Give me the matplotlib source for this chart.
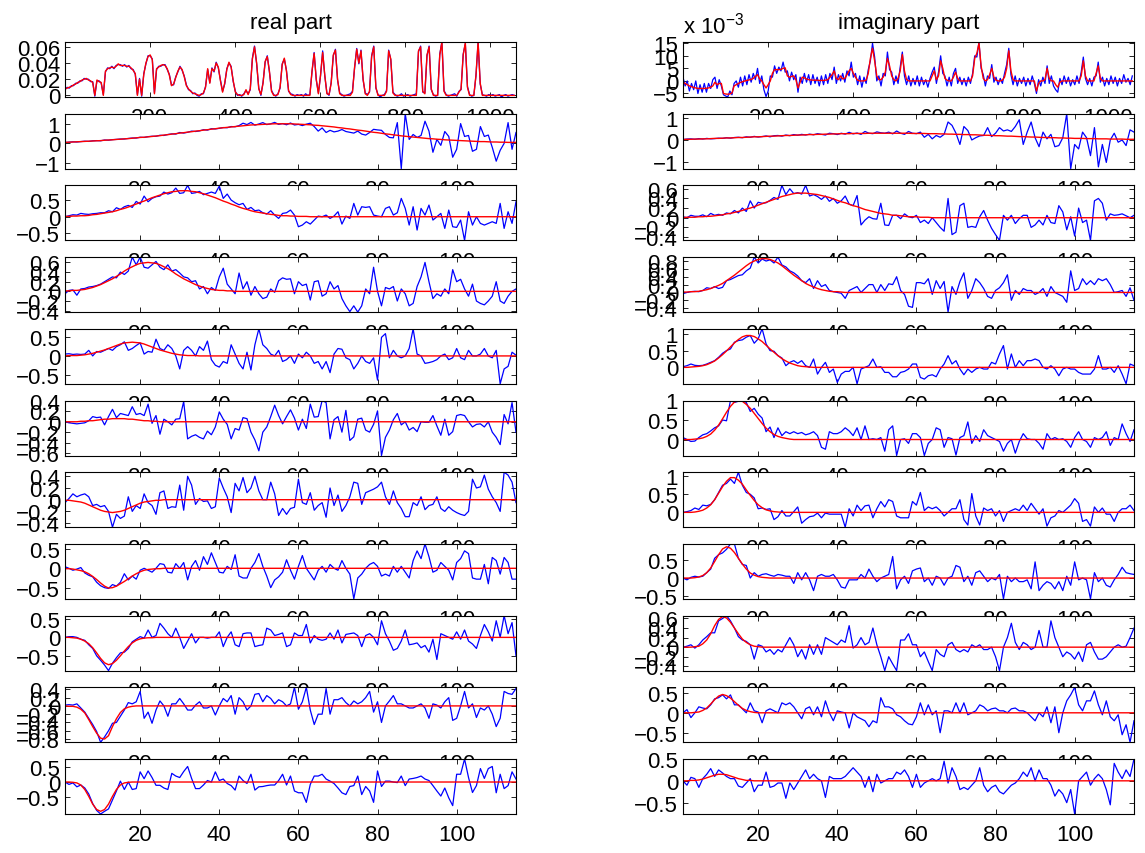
import numpy as np
import matplotlib.pyplot as plt

plt.rcParams['font.family'] = ['Liberation Sans', 'DejaVu Sans']
plt.rcParams['font.size'] = 16
plt.rcParams['mathtext.default'] = 'regular'

# ---------------------------------------------------------------------------
# whole spectrum, every 5th bin starting at bin 1 (values in units of 1e-3)
top_step = 5
real_top_data = [
    7, 10, 9, 12, 12, 15, 15, 18, 18, 21,
    20, 20, 17, 17, -1, 18, 18, 15, 1, 29,
    34, 33, 36, 33, 37, 38, 38, 36, 38, 35,
    37, 33, 32, 26, 1, 21, -1, 27, 39, 49,
    49, 45, 3, 32, 36, 36, 38, 38, 32, 26,
    13, 13, 23, 29, 36, 31, 24, 13, 7, 6,
    2, 3, 0, -1, 2, 2, 11, 32, 16, 34,
    29, 41, 34, 19, 5, 14, 33, 40, 36, 17,
    5, 0, 1, -1, 2, 6, 2, 7, 46, 61,
    39, 9, 0, 16, 41, 49, 29, 6, 1, -1,
    2, 9, 39, 45, 31, 5, 2, 1, -1, 1,
    0, 1, -1, 2, 0, 1, 29, 53, 19, 3,
    24, 55, 24, 3, 0, 16, 49, 57, 19, 3,
    1, -1, 0, 1, 2, 5, 34, 58, 39, 56,
    19, 3, 1, 4, 49, 61, 9, 1, -2, 0,
    1, 6, 56, 44, 4, 1, -1, 0, 2, -1,
    0, 1, -1, 0, 1, 2, 54, 61, 4, 3,
    49, 61, 7, 1, -1, 0, 51, 66, 6, 1,
    -1, 0, 1, 2, -1, 5, 7, 51, 64, 11,
    1, -1, 0, 24, 66, 14, 1, 0, -1, 1,
    0, 1, -1, 0, 1, -2, 0, 1, -1, 0, 1, 0]
real_top_fit = [
    8, 9, 10, 11, 13, 14, 16, 17, 19, 20,
    21, 19, 18, 16, 0, 19, 17, 16, 0, 30,
    33, 34, 35, 34, 36, 39, 37, 37, 37, 36,
    36, 34, 31, 27, 0, 20, 0, 26, 40, 48,
    50, 44, 2, 33, 35, 37, 38, 37, 33, 25,
    12, 14, 22, 30, 35, 32, 23, 12, 8, 5,
    3, 2, 1, 0, 1, 3, 10, 33, 15, 33,
    30, 40, 35, 18, 4, 15, 32, 41, 35, 18,
    4, 1, 0, 0, 1, 7, 1, 8, 45, 60,
    40, 8, 1, 15, 42, 48, 30, 5, 0, 0,
    1, 10, 38, 46, 30, 6, 1, 0, 0, 0,
    0, 0, 0, 0, 0, 0, 30, 52, 20, 2,
    25, 53, 25, 2, 1, 15, 50, 56, 20, 2,
    0, 0, 0, 0, 0, 4, 35, 57, 40, 55,
    20, 2, 0, 5, 48, 60, 10, 0, 0, 0,
    0, 5, 55, 45, 3, 0, 0, 0, 0, 0,
    0, 0, 0, 0, 0, 0, 55, 60, 5, 2,
    50, 60, 8, 0, 0, 0, 50, 66, 5, 0,
    0, 0, 0, 0, 0, 4, 8, 50, 65, 10,
    0, 0, 0, 25, 66, 15, 0, 0, 0, 0,
    0, 0, 0, 0, 0, 0, 0, 0, 0, 0, 0, 0]
imag_top_data = [
    1.5, -2, 0, -4, -1, -3.5, 0, -5, -1.5, -4.5,
    -1, -4.5, -1, -3, 0.5, 1.5, -3, 0.5, -2, -5.5,
    -6, -6.4, -4, -5.5, -1, 0, -2.5, 1.5, -2, 2,
    -1.5, 2.5, -0.5, 3, 0.5, 5, -1, 2, -3.5, -6.2,
    -4, 2, 1.5, 6, 3, 5.5, 4, 7.5, 3.5, 4,
    0, 3.5, 0.5, 2.5, -4.5, 1.5, -1, 3, -0.5, 2.5,
    -1.5, 2.5, -1, 1.5, -2, 2, -1.5, 2.5, -1, 3,
    0.5, 5.5, -1, 2.5, 0, 3, -0.5, 4, 2, 7.5,
    1.5, 3, -1.5, 2, -2.5, 1.5, -1, 4.5, 8, 15,
    9.5, 0, 2, -2, 3, 2, 11.5, 4.5, 3.5, -1.5,
    2, -1, 5.5, 11.5, 2, -1.5, 2, -2, 1, -1.5,
    2, -2, 1.5, -1.5, 0.5, -2.5, 1, 3.5, 5.5, -1,
    3.5, 10, 3, 2, -2, 1.5, -2, 3, 5, -1,
    1.5, -1.5, 1, -2, 1.5, -1, 3, 10, 9.5, 15.5,
    5, 2.5, -2, 2, 1, 6.5, -0.5, 1.5, -1.5, 1,
    -1, 3, 6.5, 13, 2.5, -1.5, 2, -2, 1, -1,
    1.5, -2, 1, -1.5, 2, -1, -5, 0.5, -2, 1.5,
    -1, 6, -1, 2, -2, -3.5, -4.5, 1, -1.5, 2,
    -1, 1.5, -2, 0.5, -1.5, 2, -1, 3.5, 9.5, 1,
    -1.5, 1, -2, 1.5, 2, 7.5, -0.5, 1.5, -2, 1,
    -1.5, 2, -1, 1.5, -2, 1, -1, 2.5, -0.5, 1, -1.5, 2]
imag_top_fit = [
    -0.5, -1, -1.5, -2, -2.3, -2.6, -2.8, -3, -3, -3,
    -3, -2.9, -2.8, -2.5, -2, -0.5, -1.5, -1, -1, -5,
    -5.2, -5.3, -5.2, -4.8, -2, -1.5, -1, -0.6, -0.3, 0,
    0.2, 0.4, 0.6, 1, 1.8, 2.5, 0.8, 0, -1.5, -2.8,
    -1.5, 0, 3, 4.5, 4.5, 4.5, 4.6, 5, 5.2, 2,
    1.5, 1.8, 2, 0.5, -2.8, -0.5, 1.5, 1.2, 0.8, 0.5,
    0.4, 0.3, 0.3, 0.3, 0.2, 0.2, 0.2, 0.3, 0.5, 1.5,
    2.5, 4, 1, 0.5, 2, 0.8, 1, 2.5, 4, 5,
    3, 1.5, 0.3, 0, 0, 0, 0.3, 3, 9, 13,
    8, 2, 0.5, 0.5, 1.5, 3.5, 9, 6, 2, 0.5,
    0, 1, 4, 10.5, 4, 0.5, 0, 0, 0, 0,
    0, 0, 0, 0, 0, 0, 0, 2, 4, 0.5,
    2, 8, 5, 1, 0.3, 0, 0, 1.5, 3.5, 1,
    0, 0, 0, 0, 0, 0, 2, 9, 11, 15,
    6, 1, 0, 0.5, 2.5, 5, 1.5, 0.3, 0, 0,
    0.3, 1.5, 5, 12, 4, 0.5, 0, 0, 0, 0,
    0, 0, 0, 0, 0, 0, -4, -1, 0, 0,
    0.5, 5, 1, 0, 0, -1.5, -2.5, -0.5, 0, 0,
    0, 0, 0, 0, 0, 0, 0, 2, 8, 2,
    0, 0, 0, 0, 3, 6, 1, 0, 0, 0,
    0, 0, 0, 0, 0, 0, 0, 0, 0, 0, 0, 0]

# ---------------------------------------------------------------------------
# expansion coefficients 1..10, real part (data and fitted curve)
real_c1_data = [
    0.04, 0.06, 0.08, 0.07, 0.09, 0.11, 0.1, 0.13, 0.14, 0.13,
    0.17, 0.16, 0.19, 0.2, 0.22, 0.22, 0.25, 0.27, 0.27, 0.31,
    0.3, 0.34, 0.36, 0.36, 0.41, 0.4, 0.45, 0.48, 0.47, 0.55,
    0.52, 0.56, 0.62, 0.6, 0.63, 0.69, 0.67, 0.74, 0.73, 0.76,
    0.8, 0.79, 0.85, 0.84, 0.9, 1.02, 0.95, 1.06, 0.92, 0.98,
    1.05, 0.95, 0.99, 1.06, 0.96, 1.0, 0.94, 1.03, 0.93, 0.96,
    0.9, 0.97, 1.02, 0.85, 0.62, 0.78, 0.55, 0.66, 0.58, 0.62,
    0.7, 0.6, 0.56, 0.52, 0.62, 0.47, 0.42, 0.55, 0.71, 0.68,
    0.66, 0.45, 0.3, 0.28, 1.05, -1.28, 1.5, 0.2, 0.45, 0.3,
    0.4, 1.12, 0.62, -0.45, 0.2, -0.1, 0.6, 0.35, -0.7, -0.3,
    1.0, 0.35, 0.4, -0.4, -0.3, 0.85, 0.35, 0.42, -0.2, -0.9,
    -0.35, 0.0, 1.05, -0.3, 0.55]
real_c1_fit = [
    0.05, 0.06, 0.07, 0.08, 0.09, 0.1, 0.11, 0.12, 0.13, 0.14,
    0.16, 0.17, 0.18, 0.2, 0.21, 0.23, 0.24, 0.26, 0.28, 0.3,
    0.31, 0.33, 0.35, 0.37, 0.39, 0.42, 0.44, 0.47, 0.49, 0.52,
    0.54, 0.57, 0.59, 0.62, 0.64, 0.67, 0.69, 0.72, 0.74, 0.77,
    0.79, 0.81, 0.83, 0.85, 0.87, 0.89, 0.91, 0.93, 0.94, 0.95,
    0.96, 0.97, 0.98, 0.99, 0.99, 0.99, 0.99, 0.99, 0.98, 0.97,
    0.96, 0.95, 0.94, 0.92, 0.91, 0.89, 0.87, 0.85, 0.83, 0.8,
    0.78, 0.75, 0.73, 0.7, 0.67, 0.65, 0.62, 0.59, 0.56, 0.54,
    0.51, 0.48, 0.46, 0.43, 0.41, 0.38, 0.36, 0.34, 0.32, 0.3,
    0.28, 0.26, 0.24, 0.23, 0.21, 0.2, 0.18, 0.17, 0.16, 0.15,
    0.14, 0.13, 0.12, 0.11, 0.1, 0.09, 0.09, 0.08, 0.07, 0.07,
    0.06, 0.06, 0.05, 0.05, 0.05]

real_c2_data = [
    0.0, 0.03, 0.06, 0.05, 0.1, 0.08, 0.07, 0.09, 0.1, 0.12,
    0.12, 0.18, 0.15, 0.27, 0.22, 0.3, 0.34, 0.28, 0.46, 0.38,
    0.62, 0.45, 0.55, 0.6, 0.62, 0.74, 0.68, 0.72, 0.86, 0.7,
    0.72, 0.94, 0.7, 0.72, 0.76, 0.66, 0.7, 0.74, 0.7, 0.92,
    0.55, 0.68, 0.5, 0.42, 0.36, 0.4, 0.22, 0.28, 0.18, 0.2,
    0.12, 0.08, 0.18, 0.05, -0.05, 0.1, 0.12, 0.2, 0.05, -0.3,
    -0.25, -0.15, -0.22, -0.1, 0.02, 0.0, 0.05, -0.05, 0.02, 0.15,
    -0.22, 0.02, -0.05, 0.4, 0.05, 0.3, 0.28, 0.3, 0.05, 0.02,
    0.0, 0.25, 0.3, 0.05, 0.12, 0.55, 0.25, -0.25, 0.3, -0.4,
    0.25, 0.05, 0.35, -0.1, 0.0, 0.1, -0.35, 0.2, -0.3, -0.32,
    -0.1, -0.71, 0.15, -0.25, 0.0, -0.2, -0.25, -0.2, -0.15, -0.2,
    0.4, -0.35, 0.15, -0.2, 0.45]
real_c2_fit = [
    0.01, 0.01, 0.02, 0.02, 0.03, 0.03, 0.04, 0.06, 0.07, 0.09,
    0.11, 0.13, 0.15, 0.18, 0.22, 0.25, 0.29, 0.34, 0.38, 0.43,
    0.47, 0.52, 0.57, 0.61, 0.65, 0.69, 0.72, 0.75, 0.76, 0.78,
    0.78, 0.78, 0.76, 0.75, 0.72, 0.69, 0.65, 0.61, 0.57, 0.52,
    0.47, 0.43, 0.38, 0.34, 0.29, 0.25, 0.22, 0.18, 0.15, 0.13,
    0.11, 0.09, 0.07, 0.06, 0.04, 0.03, 0.03, 0.02, 0.02, 0.01,
    0.01, 0.01, 0, 0, 0, 0, 0, 0, 0, 0,
    0, 0, 0, 0, 0, 0, 0, 0, 0, 0,
    0, 0, 0, 0, 0, 0, 0, 0, 0, 0,
    0, 0, 0, 0, 0, 0, 0, 0, 0, 0,
    0, 0, 0, 0, 0, 0, 0, 0, 0, 0,
    0, 0, 0, 0, 0]

real_c3_data = [
    -0.05, 0.02, 0.03, -0.08, 0.05, 0.06, 0.09, 0.1, 0.12, 0.15,
    0.2, 0.25, 0.3, 0.28, 0.4, 0.35, 0.42, 0.71, 0.55, 0.71,
    0.5, 0.48, 0.55, 0.62, 0.5, 0.45, 0.55, 0.42, 0.45, 0.38,
    0.3, 0.28, 0.2, 0.22, 0.05, 0.1, -0.05, 0.08, 0.02, 0.3,
    0.48, 0.15, 0.05, -0.05, 0.38, 0.05, 0.2, -0.08, 0.1, -0.05,
    -0.15, -0.12, 0.05, -0.02, 0.22, 0.28, 0.25, 0.26, -0.05, 0.2,
    0.12, 0.15, -0.18, 0.2, 0.22, -0.1, -0.05, 0.2, 0.05, 0.12,
    -0.15, -0.3, -0.42, -0.3, -0.43, -0.3, 0.05, -0.05, 0.5, 0.0,
    -0.3, 0.08, 0.05, 0.1, -0.2, 0.05, -0.05, -0.3, -0.25, 0.1,
    0.3, 0.6, 0.2, -0.15, -0.05, -0.1, 0.05, -0.05, 0.45, 0.2,
    0.25, 0.05, -0.1, 0.15, -0.2, -0.25, -0.28, -0.2, -0.1, 0.2,
    -0.2, -0.25, -0.1, 0.0, 0.05]
real_c3_fit = [
    0.01, 0.01, 0.02, 0.02, 0.03, 0.04, 0.06, 0.08, 0.11, 0.14,
    0.18, 0.22, 0.26, 0.31, 0.36, 0.42, 0.47, 0.51, 0.55, 0.58,
    0.59, 0.6, 0.59, 0.58, 0.55, 0.51, 0.47, 0.42, 0.36, 0.31,
    0.26, 0.22, 0.18, 0.14, 0.11, 0.08, 0.06, 0.04, 0.03, 0.02,
    0.02, 0.01, 0.01, 0, 0, 0, 0, 0, 0, 0,
    0, 0, 0, 0, 0, 0, 0, 0, 0, 0,
    0, 0, 0, 0, 0, 0, 0, 0, 0, 0,
    0, 0, 0, 0, 0, 0, 0, 0, 0, 0,
    0, 0, 0, 0, 0, 0, 0, 0, 0, 0,
    0, 0, 0, 0, 0, 0, 0, 0, 0, 0,
    0, 0, 0, 0, 0, 0, 0, 0, 0, 0,
    0, 0, 0, 0, 0]

real_c4_data = [
    0.05, 0.06, 0.04, 0.05, 0.04, 0.05, 0.15, 0.0, 0.12, 0.1,
    0.15, 0.2, 0.15, 0.25, 0.3, 0.38, 0.15, 0.2, 0.28, 0.35,
    0.05, 0.12, 0.1, 0.45, 0.2, 0.15, 0.3, 0.2, 0.0, -0.35,
    0.15, 0.25, 0.15, 0.0, 0.25, 0.15, 0.4, -0.1, -0.25, -0.3,
    -0.15, -0.2, 0.3, 0.05, -0.2, -0.35, 0.1, -0.38, 0.3, 0.73,
    0.3, 0.2, 0.05, 0.0, 0.15, -0.15, -0.1, 0.0, -0.2, 0.05,
    -0.05, 0.1, 0.0, -0.2, -0.15, -0.35, -0.15, -0.45, 0.05, 0.2,
    0.18, -0.05, -0.1, -0.35, -0.2, 0.0, -0.15, -0.2, -0.05, -0.65,
    0.5, 0.6, -0.05, 0.15, 0.0, -0.05, 0.0, 0.2, 0.73, 0.05,
    0.0, -0.2, -0.18, -0.15, -0.1, 0.0, 0.05, -0.1, -0.05, 0.2,
    -0.05, -0.1, 0.15, 0.0, 0.0, 0.05, 0.2, 0.0, -0.05, 0.15,
    -0.75, -0.35, -0.28, 0.1, 0.02]
real_c4_fit = [
    0, 0.01, 0.01, 0.01, 0.02, 0.03, 0.05, 0.07, 0.1, 0.13,
    0.16, 0.2, 0.24, 0.28, 0.32, 0.35, 0.36, 0.37, 0.36, 0.35,
    0.32, 0.28, 0.24, 0.2, 0.16, 0.13, 0.1, 0.07, 0.05, 0.03,
    0.02, 0.01, 0.01, 0.01, 0, 0, 0, 0, 0, 0,
    0, 0, 0, 0, 0, 0, 0, 0, 0, 0,
    0, 0, 0, 0, 0, 0, 0, 0, 0, 0,
    0, 0, 0, 0, 0, 0, 0, 0, 0, 0,
    0, 0, 0, 0, 0, 0, 0, 0, 0, 0,
    0, 0, 0, 0, 0, 0, 0, 0, 0, 0,
    0, 0, 0, 0, 0, 0, 0, 0, 0, 0,
    0, 0, 0, 0, 0, 0, 0, 0, 0, 0,
    0, 0, 0, 0, 0]

real_c5_data = [
    0.0, -0.02, -0.03, -0.04, -0.03, -0.02, 0.02, 0.1, 0.08, 0.09,
    -0.06, 0.1, 0.24, 0.08, 0.16, 0.14, 0.12, 0.29, 0.14, 0.16,
    0.12, 0.34, -0.03, 0.12, -0.24, 0.05, 0.0, -0.06, 0.05, 0.06,
    0.39, -0.33, -0.28, -0.25, -0.3, -0.33, -0.18, -0.25, -0.1, 0.19,
    0.05, -0.05, -0.33, -0.13, -0.16, 0.08, 0.06, -0.2, -0.35, -0.56,
    -0.2, -0.1, 0.1, 0.32, 0.12, -0.04, 0.1, 0.23, 0.07, -0.16,
    0.05, -0.13, 0.34, 0.09, 0.1, 0.41, 0.37, -0.33, 0.04, 0.1,
    -0.2, 0.22, -0.36, -0.29, 0.05, 0.07, -0.16, -0.2, -0.05, 0.21,
    -0.65, -0.3, -0.16, 0.04, 0.16, -0.06, 0.0, -0.16, -0.11, -0.19,
    0.0, -0.01, -0.01, 0.12, -0.08, -0.26, 0.05, -0.26, -0.19, 0.12,
    0.14, 0.12, 0.0, -0.1, -0.05, -0.04, -0.1, 0.0, -0.2, -0.3,
    -0.44, 0.14, -0.04, 0.37, -0.2]
real_c5_fit = [
    0, 0, 0, 0, 0.01, 0.01, 0.02, 0.02, 0.03, 0.04,
    0.05, 0.05, 0.06, 0.06, 0.06, 0.06, 0.05, 0.05, 0.04, 0.03,
    0.02, 0.02, 0.01, 0.01, 0, 0, 0, 0, 0, 0,
    0, 0, 0, 0, 0, 0, 0, 0, 0, 0,
    0, 0, 0, 0, 0, 0, 0, 0, 0, 0,
    0, 0, 0, 0, 0, 0, 0, 0, 0, 0,
    0, 0, 0, 0, 0, 0, 0, 0, 0, 0,
    0, 0, 0, 0, 0, 0, 0, 0, 0, 0,
    0, 0, 0, 0, 0, 0, 0, 0, 0, 0,
    0, 0, 0, 0, 0, 0, 0, 0, 0, 0,
    0, 0, 0, 0, 0, 0, 0, 0, 0, 0,
    0, 0, 0, 0, 0]

real_c6_data = [
    -0.05, 0.02, 0.1, 0.05, 0.08, 0.1, 0.05, -0.1, -0.08, -0.12,
    -0.1, -0.2, -0.47, -0.25, -0.32, -0.28, 0.05, -0.2, -0.1, -0.15,
    0.1, -0.05, -0.1, -0.25, 0.12, 0.15, -0.15, -0.12, -0.13, 0.25,
    -0.18, 0.4, 0.25, -0.08, 0.02, -0.03, -0.02, -0.15, -0.12, 0.37,
    0.2, 0.05, -0.22, 0.28, 0.15, 0.38, 0.12, 0.2, 0.4, 0.15,
    0.0, 0.0, 0.3, 0.1, -0.27, -0.15, -0.25, -0.15, -0.13, 0.35,
    -0.05, -0.08, 0.12, -0.18, -0.1, -0.05, -0.3, 0.2, -0.1, 0.08,
    -0.2, -0.1, 0.05, 0.3, 0.28, -0.08, 0.12, 0.15, 0.18, 0.22,
    0.3, 0.05, -0.08, 0.15, -0.05, -0.15, -0.29, -0.29, -0.05, -0.1,
    0.05, -0.17, -0.1, -0.08, 0.05, -0.15, -0.2, -0.12, -0.18, -0.22,
    -0.25, -0.27, -0.2, 0.35, 0.2, 0.22, 0.42, 0.18, 0.05, -0.05,
    -0.2, 0.47, 0.42, 0.3, -0.05]
real_c6_fit = [
    -0.01, -0.01, -0.02, -0.03, -0.04, -0.06, -0.09, -0.12, -0.15, -0.18,
    -0.2, -0.21, -0.22, -0.21, -0.2, -0.18, -0.15, -0.12, -0.09, -0.06,
    -0.04, -0.03, -0.02, -0.01, -0.01, 0, 0, 0, 0, 0,
    0, 0, 0, 0, 0, 0, 0, 0, 0, 0,
    0, 0, 0, 0, 0, 0, 0, 0, 0, 0,
    0, 0, 0, 0, 0, 0, 0, 0, 0, 0,
    0, 0, 0, 0, 0, 0, 0, 0, 0, 0,
    0, 0, 0, 0, 0, 0, 0, 0, 0, 0,
    0, 0, 0, 0, 0, 0, 0, 0, 0, 0,
    0, 0, 0, 0, 0, 0, 0, 0, 0, 0,
    0, 0, 0, 0, 0, 0, 0, 0, 0, 0,
    0, 0, 0, 0, 0]

real_c7_data = [
    0.04, 0.0, -0.05, -0.02, 0.02, -0.12, -0.18, -0.22, -0.36, -0.45,
    -0.5, -0.52, -0.42, -0.46, -0.36, -0.14, -0.3, -0.2, -0.28, -0.05,
    0.0, -0.05, -0.1, 0.0, 0.12, 0.1, -0.1, -0.12, 0.12, 0.0,
    0.15, -0.3, 0.05, 0.2, -0.05, 0.3, 0.1, 0.4, 0.15, -0.1,
    -0.12, 0.05, -0.03, 0.35, -0.2, -0.25, -0.25, 0.0, 0.15, 0.38,
    0.05, -0.2, -0.5, -0.3, -0.22, -0.1, 0.22, -0.05, -0.28, 0.05,
    0.33, 0.0, -0.15, -0.3, -0.05, 0.05, -0.1, 0.1, 0.0, -0.05,
    0.2, 0.0, -0.15, -0.79, -0.25, -0.15, 0.0, 0.1, 0.15, 0.05,
    -0.2, -0.15, -0.2, 0.05, -0.1, 0.05, -0.1, -0.25, 0.2, 0.45,
    0.25, 0.63, 0.3, -0.1, -0.05, 0.15, 0.05, -0.05, -0.3, 0.15,
    0.25, 0.45, 0.38, -0.25, -0.28, -0.28, 0.1, -0.4, 0.28, 0.2,
    -0.15, 0.28, 0.15, -0.28, -0.28]
real_c7_fit = [
    -0.01, -0.01, -0.02, -0.04, -0.06, -0.09, -0.14, -0.21, -0.29, -0.38,
    -0.46, -0.51, -0.5, -0.46, -0.4, -0.34, -0.27, -0.2, -0.14, -0.09,
    -0.05, -0.03, -0.02, -0.01, -0.01, 0, 0, 0, 0, 0,
    0, 0, 0, 0, 0, 0, 0, 0, 0, 0,
    0, 0, 0, 0, 0, 0, 0, 0, 0, 0,
    0, 0, 0, 0, 0, 0, 0, 0, 0, 0,
    0, 0, 0, 0, 0, 0, 0, 0, 0, 0,
    0, 0, 0, 0, 0, 0, 0, 0, 0, 0,
    0, 0, 0, 0, 0, 0, 0, 0, 0, 0,
    0, 0, 0, 0, 0, 0, 0, 0, 0, 0,
    0, 0, 0, 0, 0, 0, 0, 0, 0, 0,
    0, 0, 0, 0, 0]

real_c8_data = [
    0.0, 0.02, 0.02, 0.0, -0.05, -0.08, -0.2, -0.3, -0.5, -0.62,
    -0.75, -0.9, -0.7, -0.55, -0.42, -0.4, -0.3, -0.12, -0.05, 0.02,
    -0.02, 0.2, 0.0, 0.05, 0.38, 0.25, 0.1, 0.0, 0.25, 0.0,
    -0.3, -0.1, 0.1, -0.15, 0.0, 0.0, -0.02, 0.0, 0.0, 0.15,
    -0.25, 0.0, 0.15, -0.2, -0.25, 0.1, 0.12, 0.12, -0.25, -0.22,
    -0.2, 0.25, 0.2, 0.05, 0.08, 0.12, -0.25, -0.2, 0.12, 0.05,
    0.05, 0.35, -0.15, 0.05, -0.05, -0.08, -0.05, 0.12, -0.05, 0.2,
    -0.15, 0.08, 0.1, 0.12, 0.05, -0.25, 0.05, 0.1, 0.0, -0.2,
    0.45, 0.1, -0.1, -0.35, -0.3, -0.1, 0.2, -0.2, -0.18, -0.15,
    -0.28, -0.22, -0.4, -0.05, -0.6, 0.1, 0.05, 0.0, -0.05, 0.15,
    -0.05, 0.2, -0.1, -0.18, -0.3, 0.05, 0.35, 0.15, -0.1, 0.45,
    0.0, 0.59, 0.1, 0.4, -0.5]
real_c8_fit = [
    0, 0, -0.01, -0.02, -0.05, -0.1, -0.17, -0.28, -0.42, -0.57,
    -0.69, -0.74, -0.71, -0.62, -0.5, -0.37, -0.25, -0.15, -0.08, -0.04,
    -0.02, -0.01, -0.01, 0, 0, 0, 0, 0, 0, 0,
    0, 0, 0, 0, 0, 0, 0, 0, 0, 0,
    0, 0, 0, 0, 0, 0, 0, 0, 0, 0,
    0, 0, 0, 0, 0, 0, 0, 0, 0, 0,
    0, 0, 0, 0, 0, 0, 0, 0, 0, 0,
    0, 0, 0, 0, 0, 0, 0, 0, 0, 0,
    0, 0, 0, 0, 0, 0, 0, 0, 0, 0,
    0, 0, 0, 0, 0, 0, 0, 0, 0, 0,
    0, 0, 0, 0, 0, 0, 0, 0, 0, 0,
    0, 0, 0, 0, 0]

real_c9_data = [
    0.02, 0.03, 0.02, 0.05, -0.05, -0.15, -0.3, -0.45, -0.62, -0.88,
    -0.75, -0.6, -0.42, -0.4, -0.25, -0.1, 0.08, 0.05, 0.1, 0.35,
    -0.3, -0.15, -0.42, -0.1, 0.12, 0.0, -0.25, 0.05, 0.05, 0.18,
    0.05, -0.1, -0.1, 0.02, 0.1, -0.05, -0.05, 0.0, -0.22, 0.0,
    0.18, 0.1, 0.25, -0.2, 0.2, 0.1, -0.1, 0.0, 0.28, 0.3,
    0.1, 0.25, 0.18, 0.05, 0.15, 0.1, 0.0, 0.05, 0.45, -0.08,
    0.1, 0.45, -0.1, -0.45, -0.2, -0.2, 0.42, -0.2, 0.15, 0.15,
    0.2, 0.08, 0.0, 0.12, 0.05, 0.1, 0.2, 0.35, -0.15, 0.1,
    -0.4, 0.0, 0.12, 0.25, 0.05, 0.05, 0.0, -0.05, -0.05, 0.0,
    0.05, -0.05, -0.3, 0.05, 0.02, -0.05, 0.1, 0.2, -0.35, -0.3,
    0.0, 0.35, -0.05, 0.05, -0.28, -0.05, -0.1, 0.0, -0.2, -0.5,
    -0.3, 0.35, 0.3, 0.28, 0.42]
real_c9_fit = [
    0, -0.01, -0.01, -0.03, -0.08, -0.17, -0.33, -0.5, -0.66, -0.78,
    -0.8, -0.72, -0.5, -0.31, -0.16, -0.07, -0.03, -0.01, 0, 0,
    0, 0, 0, 0, 0, 0, 0, 0, 0, 0,
    0, 0, 0, 0, 0, 0, 0, 0, 0, 0,
    0, 0, 0, 0, 0, 0, 0, 0, 0, 0,
    0, 0, 0, 0, 0, 0, 0, 0, 0, 0,
    0, 0, 0, 0, 0, 0, 0, 0, 0, 0,
    0, 0, 0, 0, 0, 0, 0, 0, 0, 0,
    0, 0, 0, 0, 0, 0, 0, 0, 0, 0,
    0, 0, 0, 0, 0, 0, 0, 0, 0, 0,
    0, 0, 0, 0, 0, 0, 0, 0, 0, 0,
    0, 0, 0, 0, 0]

real_c10_data = [
    0.0, -0.08, -0.03, -0.16, -0.1, -0.2, -0.4, -0.72, -0.95, -1.07,
    -0.98, -0.9, -0.6, -0.3, 0.03, -0.25, 0.0, -0.25, -0.22, 0.34,
    0.11, 0.37, 0.15, -0.11, -0.11, -0.2, -0.25, 0.29, 0.2, 0.15,
    0.35, 0.52, 0.12, -0.22, -0.22, -0.1, 0.05, 0.0, 0.34, 0.05,
    0.1, -0.05, -0.12, -0.27, 0.2, 0.05, -0.05, 0.26, -0.27, -0.16,
    -0.15, -0.12, -0.1, -0.1, 0.05, 0.26, -0.1, 0.2, -0.3, -0.36,
    -0.36, -0.68, -0.08, 0.2, 0.2, 0.26, 0.1, 0.03, -0.05, -0.2,
    -0.36, -0.42, -0.15, -0.12, 0.2, -0.42, -0.15, -0.3, -0.68, 0.37,
    -0.15, 0.03, 0.03, 0.0, -0.02, 0.2, -0.12, 0.1, 0.12, 0.15,
    0.2, 0.1, 0.05, -0.12, -0.3, -0.47, -0.2, -0.53, -0.79, 0.26,
    0.26, 0.77, 0.15, -0.35, -0.12, 0.45, 0.12, 0.45, 0.52, -0.36,
    0.26, -0.22, -0.12, 0.34, 0.1]
real_c10_fit = [
    0, 0, -0.01, -0.03, -0.1, -0.25, -0.48, -0.74, -0.92, -0.98,
    -0.92, -0.74, -0.48, -0.25, -0.1, -0.03, -0.01, 0, 0, 0,
    0, 0, 0, 0, 0, 0, 0, 0, 0, 0,
    0, 0, 0, 0, 0, 0, 0, 0, 0, 0,
    0, 0, 0, 0, 0, 0, 0, 0, 0, 0,
    0, 0, 0, 0, 0, 0, 0, 0, 0, 0,
    0, 0, 0, 0, 0, 0, 0, 0, 0, 0,
    0, 0, 0, 0, 0, 0, 0, 0, 0, 0,
    0, 0, 0, 0, 0, 0, 0, 0, 0, 0,
    0, 0, 0, 0, 0, 0, 0, 0, 0, 0,
    0, 0, 0, 0, 0, 0, 0, 0, 0, 0,
    0, 0, 0, 0, 0]

# ---------------------------------------------------------------------------
# expansion coefficients 1..10, imaginary part
imag_c1_data = [
    0.02, 0.04, 0.05, 0.03, 0.06, 0.04, 0.07, 0.05, 0.06, 0.08,
    0.07, 0.1, 0.08, 0.11, 0.12, 0.1, 0.14, 0.12, 0.16, 0.13,
    0.15, 0.18, 0.14, 0.19, 0.2, 0.17, 0.22, 0.19, 0.24, 0.21,
    0.25, 0.22, 0.26, 0.23, 0.28, 0.25, 0.22, 0.3, 0.28, 0.24,
    0.3, 0.26, 0.34, 0.27, 0.31, 0.25, 0.38, 0.3, 0.28, 0.36,
    0.32, 0.3, 0.35, 0.27, 0.4, 0.3, 0.25, 0.38, 0.3, 0.28,
    0.35, 0.12, 0.25, 0.05, 0.2, 0.12, 0.25, 0.8, 0.65, 0.3,
    -0.2, 0.6, 0.42, 0.0, 0.1, 0.18, 0.2, 0.55, 0.15, 0.3,
    0.55, 0.4, 0.45, 0.38, 0.6, 0.9, -0.2, 0.35, 0.8, 0.1,
    -0.3, 0.35, 0.05, 0.25, -0.3, -0.25, 0.1, 1.17, -1.28, -0.2,
    -0.4, 0.35, 0.1, -0.7, 0.55, -1.2, -0.2, -1.0, 0.0, 0.3,
    -0.1, 0.0, -0.25, 0.45, 0.35]
imag_c1_fit = [
    0.02, 0.03, 0.03, 0.04, 0.04, 0.05, 0.05, 0.06, 0.07, 0.07,
    0.08, 0.09, 0.09, 0.1, 0.11, 0.11, 0.12, 0.13, 0.14, 0.14,
    0.15, 0.16, 0.17, 0.17, 0.18, 0.19, 0.2, 0.2, 0.21, 0.22,
    0.22, 0.23, 0.24, 0.24, 0.25, 0.25, 0.26, 0.26, 0.27, 0.27,
    0.28, 0.28, 0.28, 0.29, 0.29, 0.29, 0.29, 0.3, 0.3, 0.3,
    0.3, 0.3, 0.3, 0.3, 0.3, 0.3, 0.3, 0.3, 0.29, 0.29,
    0.29, 0.29, 0.28, 0.28, 0.28, 0.27, 0.27, 0.26, 0.26, 0.25,
    0.25, 0.24, 0.24, 0.23, 0.23, 0.22, 0.21, 0.21, 0.2, 0.19,
    0.19, 0.18, 0.17, 0.17, 0.16, 0.15, 0.15, 0.14, 0.13, 0.13,
    0.12, 0.11, 0.11, 0.1, 0.1, 0.09, 0.09, 0.08, 0.08, 0.07,
    0.07, 0.07, 0.06, 0.06, 0.06, 0.05, 0.05, 0.05, 0.04, 0.04,
    0.04, 0.04, 0.03, 0.03, 0.03]

imag_c2_data = [
    0.02, 0.0, 0.05, 0.03, 0.03, 0.06, 0.02, 0.09, 0.05, 0.07,
    0.05, 0.1, 0.08, 0.15, 0.1, 0.2, 0.13, 0.35, 0.2, 0.32,
    0.3, 0.31, 0.36, 0.42, 0.38, 0.67, 0.48, 0.6, 0.5, 0.52,
    0.49, 0.67, 0.45, 0.48, 0.44, 0.38, 0.45, 0.34, 0.4, 0.3,
    0.35, 0.45, 0.28, 0.25, 0.46, -0.15, -0.05, 0.02, -0.02, -0.03,
    0.3, -0.15, -0.16, 0.05, 0.05, -0.02, 0.08, 0.02, 0.0, 0.05,
    -0.1, -0.05, -0.12, 0.0, -0.1, -0.2, -0.28, 0.4, -0.35, -0.3,
    0.25, 0.3, -0.2, -0.18, -0.2, 0.02, 0.15, -0.05, -0.22, -0.35,
    -0.47, 0.05, -0.05, 0.05, -0.12, -0.02, 0.05, 0.05, -0.2, -0.15,
    -0.05, -0.15, 0.05, -0.1, -0.12, 0.25, 0.12, -0.25, 0.02, -0.38,
    0.2, -0.1, -0.05, -0.47, 0.35, 0.4, 0.3, -0.05, 0.08, 0.05,
    0.06, 0.08, 0.04, 0.0, 0.05]
imag_c2_fit = [
    0, 0.01, 0.01, 0.01, 0.02, 0.02, 0.03, 0.03, 0.04, 0.05,
    0.06, 0.08, 0.09, 0.11, 0.13, 0.15, 0.18, 0.2, 0.23, 0.26,
    0.29, 0.32, 0.35, 0.38, 0.41, 0.44, 0.46, 0.48, 0.5, 0.51,
    0.51, 0.51, 0.5, 0.49, 0.48, 0.46, 0.44, 0.42, 0.39, 0.36,
    0.33, 0.31, 0.28, 0.25, 0.23, 0.2, 0.17, 0.15, 0.13, 0.11,
    0.09, 0.08, 0.07, 0.05, 0.05, 0.04, 0.03, 0.02, 0.02, 0.02,
    0.01, 0.01, 0.01, 0, 0, 0, 0, 0, 0, 0,
    0, 0, 0, 0, 0, 0, 0, 0, 0, 0,
    0, 0, 0, 0, 0, 0, 0, 0, 0, 0,
    0, 0, 0, 0, 0, 0, 0, 0, 0, 0,
    0, 0, 0, 0, 0, 0, 0, 0, 0, 0,
    0, 0, 0, 0, 0]

imag_c3_data = [
    -0.03, 0.0, 0.02, 0.03, 0.02, 0.05, 0.12, 0.1, 0.15, 0.1,
    0.13, 0.3, 0.33, 0.38, 0.43, 0.45, 0.55, 0.62, 0.9, 0.75,
    0.85, 0.8, 0.83, 0.75, 0.9, 0.7, 0.65, 0.55, 0.5, 0.42,
    0.3, 0.25, 0.35, 0.1, 0.3, 0.15, 0.2, 0.05, 0.02, 0.0,
    -0.02, -0.15, 0.05, 0.1, 0.15, 0.0, 0.1, 0.2, 0.2, 0.0,
    0.2, 0.05, 0.22, 0.2, 0.4, 0.05, -0.05, -0.35, -0.38, 0.25,
    0.25, 0.22, 0.35, -0.05, 0.3, 0.1, 0.28, -0.5, 0.15, -0.05,
    0.28, 0.5, -0.15, 0.05, 0.35, 0.25, 0.1, -0.1, -0.15, 0.05,
    0.12, 0.25, 0.45, -0.2, 0.05, -0.05, 0.1, 0.05, 0.05, -0.05,
    0.0, 0.1, -0.1, 0.15, 0.0, -0.05, -0.1, -0.25, 0.55, 0.05,
    0.1, 0.35, 0.2, 0.3, 0.2, 0.35, 0.3, 0.35, 0.2, 0.0,
    0.02, 0.05, -0.1, 0.12, -0.2]
imag_c3_fit = [
    0.01, 0.01, 0.02, 0.02, 0.03, 0.05, 0.07, 0.1, 0.14, 0.18,
    0.23, 0.3, 0.37, 0.44, 0.52, 0.6, 0.68, 0.75, 0.8, 0.84,
    0.86, 0.86, 0.84, 0.8, 0.75, 0.68, 0.6, 0.52, 0.44, 0.37,
    0.3, 0.23, 0.18, 0.14, 0.1, 0.07, 0.05, 0.03, 0.02, 0.02,
    0.01, 0, 0, 0, 0, 0, 0, 0, 0, 0,
    0, 0, 0, 0, 0, 0, 0, 0, 0, 0,
    0, 0, 0, 0, 0, 0, 0, 0, 0, 0,
    0, 0, 0, 0, 0, 0, 0, 0, 0, 0,
    0, 0, 0, 0, 0, 0, 0, 0, 0, 0,
    0, 0, 0, 0, 0, 0, 0, 0, 0, 0,
    0, 0, 0, 0, 0, 0, 0, 0, 0, 0,
    0, 0, 0, 0, 0]

imag_c4_data = [
    0.02, 0.05, 0.1, 0.06, 0.05, 0.06, 0.1, 0.15, 0.2, 0.3,
    0.42, 0.5, 0.55, 0.75, 0.8, 0.82, 0.9, 0.95, 0.72, 0.85,
    1.15, 0.7, 0.5, 0.48, 0.35, 0.28, 0.05, 0.15, 0.2, 0.12,
    0.2, 0.05, 0.0, 0.25, -0.2, 0.0, 0.15, -0.15, -0.05, -0.45,
    -0.2, -0.12, -0.12, 0.0, -0.49, -0.05, 0.0, 0.05, 0.25, 0.0,
    0.02, -0.15, -0.15, -0.28, -0.28, -0.15, -0.12, -0.05, 0.1, 0.1,
    -0.3, -0.35, -0.25, -0.22, -0.28, -0.05, 0.1, 0.35, 0.1, 0.2,
    -0.05, -0.22, -0.05, -0.15, -0.05, 0.0, -0.05, -0.05, 0.15, 0.1,
    0.4, 0.65, -0.05, 0.4, 0.0, 0.2, 0.05, 0.2, 0.2, 0.25,
    0.2, 0.0, -0.05, 0.05, -0.05, -0.25, -0.05, 0.0, -0.05, -0.05,
    -0.15, -0.2, -0.2, -0.2, -0.05, 0.35, -0.05, -0.05, 0.0, -0.15,
    0.05, -0.2, -0.49, 0.1, 0.05]
imag_c4_fit = [
    0, 0, 0.01, 0.02, 0.03, 0.05, 0.08, 0.13, 0.19, 0.28,
    0.38, 0.49, 0.61, 0.73, 0.83, 0.91, 0.95, 0.95, 0.92, 0.85,
    0.77, 0.66, 0.55, 0.45, 0.35, 0.26, 0.19, 0.13, 0.09, 0.05,
    0.03, 0.02, 0.01, 0, 0, 0, 0, 0, 0, 0,
    0, 0, 0, 0, 0, 0, 0, 0, 0, 0,
    0, 0, 0, 0, 0, 0, 0, 0, 0, 0,
    0, 0, 0, 0, 0, 0, 0, 0, 0, 0,
    0, 0, 0, 0, 0, 0, 0, 0, 0, 0,
    0, 0, 0, 0, 0, 0, 0, 0, 0, 0,
    0, 0, 0, 0, 0, 0, 0, 0, 0, 0,
    0, 0, 0, 0, 0, 0, 0, 0, 0, 0,
    0, 0, 0, 0, 0]

imag_c5_data = [
    0.05, 0.0, -0.05, -0.04, 0.05, 0.12, 0.15, 0.22, 0.3, 0.35,
    0.5, 0.48, 1.0, 0.95, 0.98, 1.0, 0.95, 0.72, 0.8, 0.65,
    0.55, 0.2, 0.32, 0.05, 0.3, 0.1, 0.2, 0.15, 0.2, 0.15,
    0.18, 0.12, 0.15, 0.2, 0.1, -0.2, -0.25, 0.2, 0.15, 0.15,
    0.2, 0.3, 0.22, 0.1, 0.3, 0.0, 0.35, 0.0, 0.02, 0.0,
    0.05, -0.3, 0.25, 0.35, -0.41, 0.0, 0.02, -0.1, 0.15, 0.15,
    0.05, -0.41, -0.1, 0.0, 0.3, 0.25, -0.2, 0.05, 0.02, -0.4,
    0.05, 0.1, 0.45, -0.1, 0.1, -0.05, 0.25, 0.1, 0.05, 0.0,
    -0.05, -0.3, -0.1, 0.0, -0.35, -0.05, 0.15, 0.02, 0.0, 0.0,
    -0.1, -0.25, 0.15, 0.0, 0.05, 0.0, 0.02, -0.05, -0.2, 0.05,
    0.2, 0.0, -0.05, -0.2, 0.05, 0.0, 0.05, 0.2, -0.15, 0.05,
    0.0, 0.4, 0.15, -0.05, 0.25]
imag_c5_fit = [
    0, 0, 0, 0.01, 0.02, 0.04, 0.08, 0.14, 0.24, 0.37,
    0.53, 0.7, 0.85, 0.96, 1.0, 0.98, 0.9, 0.8, 0.67, 0.54,
    0.41, 0.29, 0.2, 0.13, 0.08, 0.05, 0.03, 0.01, 0, 0,
    0, 0, 0, 0, 0, 0, 0, 0, 0, 0,
    0, 0, 0, 0, 0, 0, 0, 0, 0, 0,
    0, 0, 0, 0, 0, 0, 0, 0, 0, 0,
    0, 0, 0, 0, 0, 0, 0, 0, 0, 0,
    0, 0, 0, 0, 0, 0, 0, 0, 0, 0,
    0, 0, 0, 0, 0, 0, 0, 0, 0, 0,
    0, 0, 0, 0, 0, 0, 0, 0, 0, 0,
    0, 0, 0, 0, 0, 0, 0, 0, 0, 0,
    0, 0, 0, 0, 0]

imag_c6_data = [
    0.0, 0.02, 0.05, 0.12, 0.08, 0.2, 0.18, 0.22, 0.35, 0.55,
    0.75, 0.8, 0.92, 0.8, 1.11, 0.75, 0.55, 0.5, 0.4, 0.1,
    0.12, 0.08, 0.1, -0.2, -0.12, 0.05, -0.1, -0.1, 0.02, 0.15,
    -0.3, -0.2, -0.12, -0.1, -0.02, -0.15, -0.02, -0.05, -0.05, -0.05,
    -0.05, -0.41, 0.1, -0.1, 0.2, 0.05, 0.18, 0.2, -0.15, 0.1,
    0.3, 0.15, 0.35, 0.3, -0.1, -0.15, -0.15, -0.15, 0.3, 0.2,
    0.55, 0.05, 0.15, 0.1, 0.15, 0.05, -0.1, 0.0, 0.1, 0.1,
    0.35, -0.2, -0.35, 0.52, -0.1, -0.35, 0.12, 0.05, 0.1, -0.1,
    0.05, -0.25, 0.0, 0.05, 0.1, 0.05, 0.2, 0.05, 0.25, 0.1,
    -0.05, 0.1, -0.38, -0.15, -0.1, 0.05, 0.0, 0.1, 0.2, 0.38,
    0.25, -0.25, -0.2, -0.38, 0.15, 0.0, 0.12, -0.05, -0.05, -0.25,
    0.0, 0.1, 0.1, 0.2, 0.05]
imag_c6_fit = [
    0, 0, 0, 0.01, 0.03, 0.06, 0.12, 0.21, 0.35, 0.53,
    0.71, 0.86, 0.96, 0.96, 0.89, 0.78, 0.62, 0.47, 0.33, 0.21,
    0.13, 0.07, 0.04, 0.02, 0.01, 0, 0, 0, 0, 0,
    0, 0, 0, 0, 0, 0, 0, 0, 0, 0,
    0, 0, 0, 0, 0, 0, 0, 0, 0, 0,
    0, 0, 0, 0, 0, 0, 0, 0, 0, 0,
    0, 0, 0, 0, 0, 0, 0, 0, 0, 0,
    0, 0, 0, 0, 0, 0, 0, 0, 0, 0,
    0, 0, 0, 0, 0, 0, 0, 0, 0, 0,
    0, 0, 0, 0, 0, 0, 0, 0, 0, 0,
    0, 0, 0, 0, 0, 0, 0, 0, 0, 0,
    0, 0, 0, 0, 0]

imag_c7_data = [
    0.0, -0.05, 0.02, 0.05, 0.03, 0.05, 0.15, 0.25, 0.55, 0.65,
    0.7, 0.8, 0.95, 0.95, 0.55, 0.38, 0.35, 0.0, 0.15, 0.05,
    0.1, 0.12, 0.08, 0.05, 0.1, 0.08, 0.05, 0.05, -0.15, 0.15,
    -0.05, 0.15, -0.05, -0.35, 0.05, 0.1, 0.05, 0.05, 0.1, -0.05,
    -0.25, -0.28, -0.05, -0.05, -0.05, 0.1, 0.0, 0.25, 0.05, -0.1,
    0.0, 0.05, 0.1, 0.6, -0.3, -0.05, 0.05, -0.15, 0.2, 0.25,
    0.28, -0.1, 0.0, -0.2, 0.05, 0.0, -0.2, 0.0, 0.05, 0.35,
    0.3, -0.1, 0.05, -0.2, 0.15, 0.2, 0.05, -0.1, 0.0, -0.05,
    0.1, -0.58, 0.05, -0.1, 0.0, -0.1, -0.1, -0.05, -0.3, 0.45,
    -0.35, -0.2, -0.1, -0.15, -0.3, -0.1, -0.35, 0.05, -0.2, 0.45,
    -0.05, 0.0, -0.05, -0.58, 0.15, -0.1, 0.0, -0.2, -0.25, -0.05,
    0.1, 0.3, 0.15, 0.12, 0.1]
imag_c7_fit = [
    0, 0, 0, 0.01, 0.03, 0.07, 0.15, 0.28, 0.46, 0.65,
    0.81, 0.87, 0.83, 0.71, 0.55, 0.39, 0.25, 0.14, 0.08, 0.04,
    0.02, 0.01, 0, 0, 0, 0, 0, 0, 0, 0,
    0, 0, 0, 0, 0, 0, 0, 0, 0, 0,
    0, 0, 0, 0, 0, 0, 0, 0, 0, 0,
    0, 0, 0, 0, 0, 0, 0, 0, 0, 0,
    0, 0, 0, 0, 0, 0, 0, 0, 0, 0,
    0, 0, 0, 0, 0, 0, 0, 0, 0, 0,
    0, 0, 0, 0, 0, 0, 0, 0, 0, 0,
    0, 0, 0, 0, 0, 0, 0, 0, 0, 0,
    0, 0, 0, 0, 0, 0, 0, 0, 0, 0,
    0, 0, 0, 0, 0]

imag_c8_data = [
    0.0, 0.02, 0.05, -0.02, 0.05, 0.15, 0.22, 0.3, 0.3, 0.55,
    0.6, 0.66, 0.55, 0.4, 0.22, 0.15, 0.12, 0.05, -0.25, 0.05,
    0.02, -0.1, -0.05, -0.15, -0.05, -0.1, 0.05, 0.2, 0.05, -0.2,
    -0.05, -0.25, 0.05, -0.15, 0.05, -0.15, 0.2, 0.15, 0.1, 0.05,
    0.15, 0.1, 0.45, -0.02, 0.05, 0.2, 0.05, 0.1, 0.4, 0.05,
    -0.2, -0.49, -0.2, -0.35, -0.49, 0.15, 0.15, 0.28, 0.05, 0.05,
    -0.2, -0.1, -0.3, -0.49, -0.05, -0.15, -0.2, 0.05, 0.1, -0.05,
    -0.1, -0.05, -0.1, 0.05, 0.0, 0.05, -0.05, -0.05, 0.0, -0.2,
    -0.49, 0.0, 0.2, 0.5, 0.1, -0.05, 0.1, 0.05, -0.05, 0.0,
    0.35, 0.0, 0.0, 0.55, 0.2, 0.0, -0.2, -0.1, -0.15, -0.25,
    -0.1, -0.3, 0.05, 0.1, -0.1, -0.25, -0.25, -0.2, -0.1, 0.0,
    0.05, 0.0, 0.02, 0.2, 0.4]
imag_c8_fit = [
    0, 0, 0, 0.01, 0.02, 0.07, 0.15, 0.28, 0.45, 0.58,
    0.64, 0.61, 0.52, 0.4, 0.28, 0.17, 0.1, 0.05, 0.02, 0.01,
    0, 0, 0, 0, 0, 0, 0, 0, 0, 0,
    0, 0, 0, 0, 0, 0, 0, 0, 0, 0,
    0, 0, 0, 0, 0, 0, 0, 0, 0, 0,
    0, 0, 0, 0, 0, 0, 0, 0, 0, 0,
    0, 0, 0, 0, 0, 0, 0, 0, 0, 0,
    0, 0, 0, 0, 0, 0, 0, 0, 0, 0,
    0, 0, 0, 0, 0, 0, 0, 0, 0, 0,
    0, 0, 0, 0, 0, 0, 0, 0, 0, 0,
    0, 0, 0, 0, 0, 0, 0, 0, 0, 0,
    0, 0, 0, 0, 0]

imag_c9_data = [
    0.0, 0.08, -0.12, 0.0, 0.15, 0.12, 0.1, 0.2, 0.35, 0.38,
    0.45, 0.35, 0.45, 0.2, 0.2, 0.1, 0.0, 0.25, 0.05, 0.02,
    -0.25, 0.05, 0.1, 0.05, 0.0, 0.25, 0.2, 0.25, 0.15, 0.0,
    -0.15, 0.1, 0.15, -0.05, 0.15, -0.1, 0.3, 0.0, -0.2, 0.05,
    0.02, 0.0, -0.38, 0.0, -0.1, -0.15, -0.2, -0.35, -0.2, -0.25,
    0.38, 0.15, 0.15, 0.1, -0.05, -0.1, -0.2, -0.28, -0.3, -0.1,
    0.25, -0.05, 0.2, -0.05, 0.05, -0.5, 0.05, 0.05, 0.0, 0.25,
    0.0, 0.25, -0.05, 0.0, 0.05, 0.2, 0.15, 0.05, 0.1, 0.12,
    0.05, 0.05, 0.0, 0.1, 0.12, 0.05, 0.05, 0.0, -0.1, -0.2,
    0.0, -0.1, 0.15, -0.25, 0.15, -0.5, 0.0, 0.3, 0.45, 0.64,
    0.2, 0.05, 0.3, 0.3, 0.55, 0.2, -0.05, 0.3, -0.1, -0.2,
    -0.05, -0.55, -0.3, -0.74, -0.2]
imag_c9_fit = [
    0, 0, 0, 0.01, 0.02, 0.06, 0.12, 0.22, 0.33, 0.42,
    0.46, 0.43, 0.37, 0.28, 0.19, 0.11, 0.06, 0.03, 0.01, 0,
    0, 0, 0, 0, 0, 0, 0, 0, 0, 0,
    0, 0, 0, 0, 0, 0, 0, 0, 0, 0,
    0, 0, 0, 0, 0, 0, 0, 0, 0, 0,
    0, 0, 0, 0, 0, 0, 0, 0, 0, 0,
    0, 0, 0, 0, 0, 0, 0, 0, 0, 0,
    0, 0, 0, 0, 0, 0, 0, 0, 0, 0,
    0, 0, 0, 0, 0, 0, 0, 0, 0, 0,
    0, 0, 0, 0, 0, 0, 0, 0, 0, 0,
    0, 0, 0, 0, 0, 0, 0, 0, 0, 0,
    0, 0, 0, 0, 0]

imag_c10_data = [
    0.0, -0.1, 0.08, 0.05, -0.15, 0.05, 0.15, 0.28, 0.1, 0.25,
    0.18, 0.1, 0.05, 0.05, -0.12, -0.15, -0.05, 0.05, -0.25, -0.1,
    -0.1, 0.2, -0.15, -0.12, -0.05, -0.05, -0.4, -0.05, -0.2, -0.05,
    0.1, 0.25, 0.05, 0.15, 0.05, 0.0, -0.38, 0.1, 0.05, 0.05,
    0.05, 0.1, 0.2, 0.3, 0.2, 0.1, -0.15, 0.1, -0.25, 0.15,
    -0.05, 0.0, 0.05, 0.05, 0.2, 0.15, 0.25, 0.1, -0.15, 0.15,
    -0.15, -0.05, 0.0, 0.05, 0.0, 0.05, 0.45, -0.05, 0.3, 0.1,
    -0.2, -0.15, -0.2, -0.1, 0.0, 0.3, -0.1, -0.25, -0.15, -0.1,
    -0.25, -0.3, -0.2, -0.1, -0.05, 0.05, 0.2, 0.1, 0.3, 0.0,
    0.25, 0.05, 0.05, -0.1, -0.35, -0.2, -0.3, -0.5, -0.2, -0.76,
    0.0, 0.1, 0.2, -0.1, 0.05, 0.15, 0.05, -0.2, -0.55, 0.4,
    0.2, 0.05, 0.25, 0.1, 0.5]
imag_c10_fit = [
    0, 0, 0.01, 0.01, 0.02, 0.04, 0.07, 0.1, 0.13, 0.15,
    0.15, 0.14, 0.11, 0.08, 0.05, 0.03, 0.01, 0.01, 0, 0,
    0, 0, 0, 0, 0, 0, 0, 0, 0, 0,
    0, 0, 0, 0, 0, 0, 0, 0, 0, 0,
    0, 0, 0, 0, 0, 0, 0, 0, 0, 0,
    0, 0, 0, 0, 0, 0, 0, 0, 0, 0,
    0, 0, 0, 0, 0, 0, 0, 0, 0, 0,
    0, 0, 0, 0, 0, 0, 0, 0, 0, 0,
    0, 0, 0, 0, 0, 0, 0, 0, 0, 0,
    0, 0, 0, 0, 0, 0, 0, 0, 0, 0,
    0, 0, 0, 0, 0, 0, 0, 0, 0, 0,
    0, 0, 0, 0, 0]

# y tick positions, one list per row (top spectrum first)
real_yticks = [
    [0, 0.02, 0.04, 0.06],
    [-1, 0, 1],
    [-0.5, 0, 0.5],
    [-0.4, -0.2, 0, 0.2, 0.4, 0.6],
    [-0.5, 0, 0.5],
    [-0.6, -0.4, -0.2, 0, 0.2, 0.4],
    [-0.4, -0.2, 0, 0.2, 0.4],
    [-0.5, 0, 0.5],
    [-0.5, 0, 0.5],
    [-0.8, -0.6, -0.4, -0.2, 0, 0.2, 0.4],
    [-0.5, 0, 0.5],
]
imag_yticks = [
    [-5, 0, 5, 10, 15],
    [-1, 0, 1],
    [-0.4, -0.2, 0, 0.2, 0.4, 0.6],
    [-0.4, -0.2, 0, 0.2, 0.4, 0.6, 0.8],
    [0, 0.5, 1],
    [0, 0.5, 1],
    [0, 0.5, 1],
    [-0.5, 0, 0.5],
    [-0.4, -0.2, 0, 0.2, 0.4, 0.6],
    [-0.5, 0, 0.5],
    [-0.5, 0, 0.5],
]
top_xticks = [200, 400, 600, 800, 1000]
coef_xticks = [20, 40, 60, 80, 100]

real_rows = [
    (np.array(real_top_data) * 1e-3, np.array(real_top_fit) * 1e-3),
    (real_c1_data, real_c1_fit), (real_c2_data, real_c2_fit),
    (real_c3_data, real_c3_fit), (real_c4_data, real_c4_fit),
    (real_c5_data, real_c5_fit), (real_c6_data, real_c6_fit),
    (real_c7_data, real_c7_fit), (real_c8_data, real_c8_fit),
    (real_c9_data, real_c9_fit), (real_c10_data, real_c10_fit),
]
imag_rows = [
    (imag_top_data, imag_top_fit),
    (imag_c1_data, imag_c1_fit), (imag_c2_data, imag_c2_fit),
    (imag_c3_data, imag_c3_fit), (imag_c4_data, imag_c4_fit),
    (imag_c5_data, imag_c5_fit), (imag_c6_data, imag_c6_fit),
    (imag_c7_data, imag_c7_fit), (imag_c8_data, imag_c8_fit),
    (imag_c9_data, imag_c9_fit), (imag_c10_data, imag_c10_fit),
]


def tick_text(v):
    return f'{v:g}'.replace('-', '\u2212')


fig = plt.figure(figsize=(11.45, 8.54), dpi=100)
W, H = 1145, 854
col_x = [65, 683]
ax_w, ax_h = 451, 55
row_y0, row_step = 43, 71.7

top_axes = []
for r in range(11):
    for c, (rows, yticks) in enumerate([(real_rows, real_yticks),
                                        (imag_rows, imag_yticks)]):
        top_px = row_y0 + r * row_step
        ax = fig.add_axes([col_x[c] / W, 1 - (top_px + ax_h) / H,
                           ax_w / W, ax_h / H])
        data, fit = rows[r]
        if r == 0:
            x = np.arange(len(data)) * top_step + 1
            ax.set_xlim(1, 1060)
            ax.set_xticks(top_xticks)
            top_axes.append(ax)
        else:
            x = np.arange(1, len(data) + 1)
            ax.set_xlim(1, 115)
            ax.set_xticks(coef_xticks)
        ax.plot(x, data, color='#0000ff', lw=0.9)
        ax.plot(x, fit, color='#ff0000', lw=1.0)
        # tight y range, as with "axis tight"
        ax.margins(y=0)
        ylim = ax.get_ylim()
        ax.set_yticks(yticks[r])
        ax.set_yticklabels([tick_text(v) for v in yticks[r]])
        ax.set_ylim(ylim)
        ax.tick_params(direction='in', top=True, right=True, length=3.6,
                       width=0.6, labelsize=16)
        ax.tick_params(axis='x', pad=7.5)
        ax.tick_params(axis='y', pad=3.5)
        for s in ax.spines.values():
            s.set_linewidth(0.8)

top_axes[0].set_title('real part', fontsize=16, pad=10)
top_axes[1].set_title('imaginary part', fontsize=16, pad=10)
top_axes[1].annotate('x 10$^{-3}$', xy=(0, 1), xycoords='axes fraction',
                     xytext=(0, 6.5), textcoords='offset points',
                     ha='left', va='baseline', fontsize=16)

fig.savefig('out.png', dpi=100)
